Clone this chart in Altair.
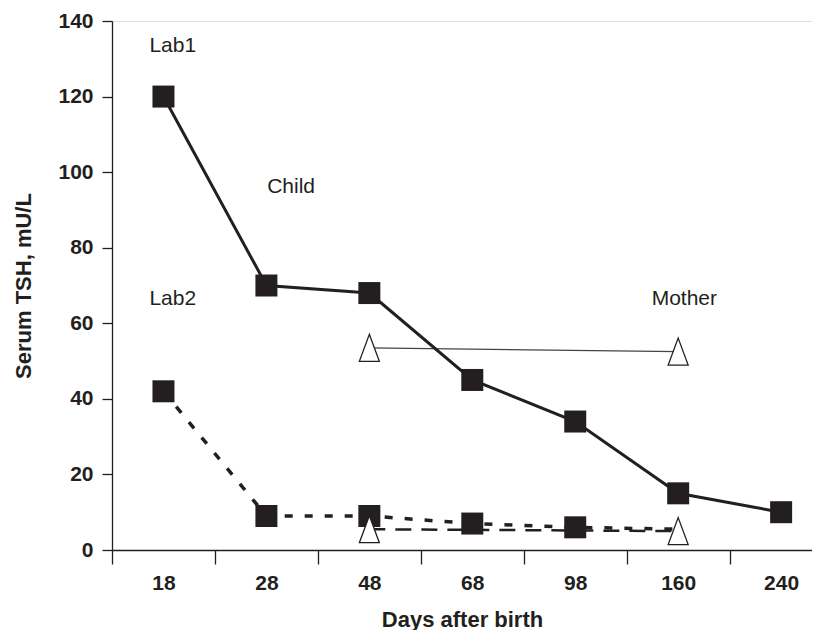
import altair as alt
import pandas as pd

# ---- data ----
days = ["18", "28", "48", "68", "98", "160", "240"]

lab1_child_days = ["18", "28", "48", "68", "98", "160", "240"]
lab1_child_tsh = [120, 70, 68, 45, 34, 15, 10]

lab2_child_days = ["18", "28", "48", "68", "98", "160"]
lab2_child_tsh = [42, 9, 9, 7, 6, 5.5]
lab2_child_marked = [True, True, True, True, True, False]

lab1_mother_days = ["48", "160"]
lab1_mother_tsh = [53.5, 52.5]

lab2_mother_days = ["48", "160"]
lab2_mother_tsh = [5.5, 5]

note_text = ["Lab1", "Child", "Lab2", "Mother"]
note_day_pos = [0.09, 1.24, 0.09, 5.06]
note_tsh = [133.5, 96, 66.5, 66.5]

INK = "#231f20"
FONT = "Liberation Sans"


def frame(dlist, vals, **extra):
    df = pd.DataFrame({"day": dlist, "tsh": vals})
    df["pos"] = [days.index(d) for d in dlist]
    for k, v in extra.items():
        df[k] = v
    return df


child1 = frame(lab1_child_days, lab1_child_tsh)
child2 = frame(lab2_child_days, lab2_child_tsh, marked=lab2_child_marked)
mother1 = frame(lab1_mother_days, lab1_mother_tsh)
mother2 = frame(lab2_mother_days, lab2_mother_tsh)
notes = pd.DataFrame({"text": note_text, "pos": note_day_pos, "tsh": note_tsh})

label_array = "[" + ",".join("'%s'" % d for d in days) + "]"
tick_values = []
for i in range(len(days)):
    tick_values.append(i - 0.5)
    tick_values.append(i)

x_enc = alt.X(
    "pos:Q",
    scale=alt.Scale(domain=[-0.5, 6.3], nice=False, zero=False),
    axis=alt.Axis(
        title="Days after birth",
        values=tick_values,
        labelExpr="datum.value % 1 === 0 ? " + label_array + "[datum.value] : ''",
        tickSize=14,
        tickOpacity={"condition": {"test": "datum.value % 1 !== 0", "value": 1}, "value": 0},
        tickColor=INK,
        tickWidth=1.3,
        domainColor=INK,
        domainWidth=1.3,
        grid=False,
        labelOverlap=False,
        labelFlush=False,
        labelFont=FONT,
        labelFontSize=21,
        labelFontWeight="bold",
        labelColor=INK,
        labelPadding=8,
        titleFont=FONT,
        titleFontSize=22,
        titleFontWeight="bold",
        titleColor=INK,
        titlePadding=16,
    ),
)

y_enc = alt.Y(
    "tsh:Q",
    scale=alt.Scale(domain=[0, 140], nice=False),
    axis=alt.Axis(
        title="Serum TSH, mU/L",
        values=list(range(0, 141, 20)),
        tickSize=10,
        tickColor=INK,
        tickWidth=1.3,
        domainColor=INK,
        domainWidth=1.3,
        grid=False,
        labelFont=FONT,
        labelFontSize=21,
        labelFontWeight="bold",
        labelColor=INK,
        labelPadding=9,
        titleFont=FONT,
        titleFontSize=22,
        titleFontWeight="bold",
        titleColor=INK,
        titlePadding=22,
    ),
)

line_child1 = alt.Chart(child1).mark_line(color=INK, strokeWidth=3).encode(x=x_enc, y=y_enc)
line_child2 = alt.Chart(child2).mark_line(
    color=INK, strokeWidth=3.5, strokeDash=[8, 12]
).encode(x=x_enc, y=y_enc)
line_mother1 = alt.Chart(mother1).mark_line(color="#444444", strokeWidth=1.2).encode(x=x_enc, y=y_enc)
line_mother2 = alt.Chart(mother2).mark_line(
    color=INK, strokeWidth=2.5, strokeDash=[16, 10]
).encode(x=x_enc, y=y_enc)

sq_child1 = alt.Chart(child1).mark_point(
    shape="square", size=484, filled=True, color=INK, opacity=1
).encode(x=x_enc, y=y_enc)
sq_child2 = alt.Chart(child2).transform_filter("datum.marked").mark_point(
    shape="square", size=484, filled=True, color=INK, opacity=1
).encode(x=x_enc, y=y_enc)

tri_path = "M0,-1L0.74,1L-0.74,1Z"
tri_mother1 = alt.Chart(mother1).mark_point(
    shape=tri_path, size=729, filled=True, fill="white", stroke=INK, strokeWidth=1.3, opacity=1
).encode(x=x_enc, y=y_enc)
tri_mother2 = alt.Chart(mother2).mark_point(
    shape=tri_path, size=729, filled=True, fill="white", stroke=INK, strokeWidth=1.3, opacity=1
).encode(x=x_enc, y=y_enc)

text = alt.Chart(notes).mark_text(
    font=FONT, fontSize=21, color=INK, align="center", baseline="middle"
).encode(x=x_enc, y=y_enc, text="text:N")

chart = (
    alt.layer(
        line_mother1, line_child1, line_child2, line_mother2,
        sq_child1, sq_child2, tri_mother1, tri_mother2, text,
    )
    .properties(width=700, height=529, padding={"left": 4, "top": 2, "right": 0, "bottom": 0})
    .configure_view(stroke=None)
    .configure(background="white")
)

chart.save("out.html", embed_options={"renderer": "svg", "actions": False})
